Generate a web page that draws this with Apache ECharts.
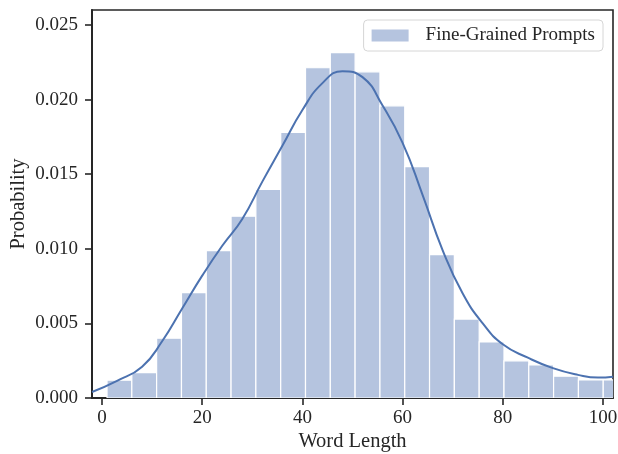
<!DOCTYPE html>
<html>
<head>
<meta charset="utf-8">
<script src="https://cdn.jsdelivr.net/npm/echarts@6/dist/echarts.min.js"></script>
<style>
html,body{margin:0;padding:0;background:#fff;}
#chart{width:618px;height:454px;}
</style>
</head>
<body>
<div id="chart"></div>
<script>
// Histogram bin edges (word length) and bar heights
const binEdges = [1.0, 5.95, 10.9, 15.86, 20.81, 25.76, 30.71, 35.67, 40.62, 45.57, 50.52,
  55.48, 60.43, 65.38, 70.33, 75.29, 80.24, 85.19, 90.14, 95.1, 100.05, 105.0];
const barHeights = [0.00119, 0.0017, 0.00401, 0.00706, 0.00988, 0.01218, 0.01398, 0.01779,
  0.02213, 0.02314, 0.02186, 0.01958, 0.0155, 0.00961, 0.00529, 0.00376, 0.00249, 0.00222,
  0.00146, 0.00121, 0.00121];
// KDE curve
const kdeX = [-2, 3, 8, 12, 16, 20, 24, 28, 32, 36, 40, 44, 48, 52, 56, 60, 64, 68, 72, 76,
  80, 85, 90, 95, 99, 102];
const kdeY = [0.0004, 0.00115, 0.0021, 0.0038, 0.0060, 0.0082, 0.0102, 0.0120, 0.0145, 0.0169,
  0.0193, 0.0211, 0.0219, 0.0215, 0.0196, 0.0171, 0.0136, 0.0099, 0.0070, 0.0050, 0.0036,
  0.0027, 0.0020, 0.00155, 0.00137, 0.00143];
const xTicks = [0, 20, 40, 60, 80, 100];
const yTicks = [0, 0.005, 0.010, 0.015, 0.020, 0.025];
const seriesName = 'Fine-Grained Prompts';

const dark = '#262626';
const fill = '#b5c4df';
const lineColor = '#4c72b0';
const font = '"Liberation Serif", "Times New Roman", serif';

const histData = barHeights.map((h, i) => [binEdges[i], binEdges[i + 1], h]);
const kdeData = kdeX.map((x, i) => [x, kdeY[i]]);

const chart = echarts.init(document.getElementById('chart'), null, {renderer: 'canvas'});
chart.setOption({
  animation: false,
  backgroundColor: '#ffffff',
  textStyle: {fontFamily: font, color: dark},
  grid: {left: 92, right: 5, top: 10, bottom: 56, containLabel: false, outerBoundsMode: 'none',
    show: true, borderColor: dark, borderWidth: 1.6, backgroundColor: 'transparent'},
  legend: {
    right: 15, top: 20,
    data: [{name: seriesName, icon: 'rect', itemStyle: {color: fill}}],
    itemWidth: 37, itemHeight: 12,
    padding: [6, 8, 6, 8],
    backgroundColor: '#fff',
    borderColor: '#d6d6d6', borderWidth: 1, borderRadius: 4,
    textStyle: {fontFamily: font, fontSize: 19, color: dark, padding: [0, 0, 0, 12]}
  },
  xAxis: {
    type: 'value', min: -2, max: 102,
    name: 'Word Length', nameLocation: 'middle', nameGap: 33, nameMoveOverlap: false,
    nameTextStyle: {fontFamily: font, fontSize: 20.5, color: dark},
    axisLine: {onZero: false, lineStyle: {color: dark, width: 2}},
    axisTick: {show: true, length: 7, lineStyle: {color: dark, width: 1.6}, customValues: xTicks},
    axisLabel: {fontFamily: font, fontSize: 19, color: dark, margin: 11, customValues: xTicks},
    splitLine: {show: false}
  },
  yAxis: {
    type: 'value', min: 0, max: 0.026,
    name: 'Probability', nameLocation: 'middle', nameGap: 63, nameMoveOverlap: false,
    nameTextStyle: {fontFamily: font, fontSize: 20.5, color: dark},
    axisLine: {show: true, onZero: false, lineStyle: {color: dark, width: 2}},
    axisTick: {show: true, length: 7, lineStyle: {color: dark, width: 1.6}, customValues: yTicks},
    axisLabel: {fontFamily: font, fontSize: 19, color: dark, margin: 14, customValues: yTicks,
      formatter: v => v.toFixed(3)},
    splitLine: {show: false}
  },
  series: [
    {
      name: seriesName,
      type: 'custom',
      clip: true,
      itemStyle: {color: fill},
      encode: {x: [0, 1], y: 2},
      data: histData,
      renderItem: function (params, api) {
        const p0 = api.coord([api.value(0), api.value(2)]);
        const p1 = api.coord([api.value(1), 0]);
        return {
          type: 'rect',
          shape: {x: p0[0], y: p0[1], width: p1[0] - p0[0], height: p1[1] - p0[1]},
          style: {fill: fill, stroke: '#ffffff', lineWidth: 1.2}
        };
      },
      z: 2
    },
    {
      name: 'kde',
      type: 'line',
      data: kdeData,
      smooth: 0.5,
      showSymbol: false,
      symbol: 'none',
      clip: true,
      lineStyle: {color: lineColor, width: 2},
      z: 3
    }
  ]
});
</script>
</body>
</html>
